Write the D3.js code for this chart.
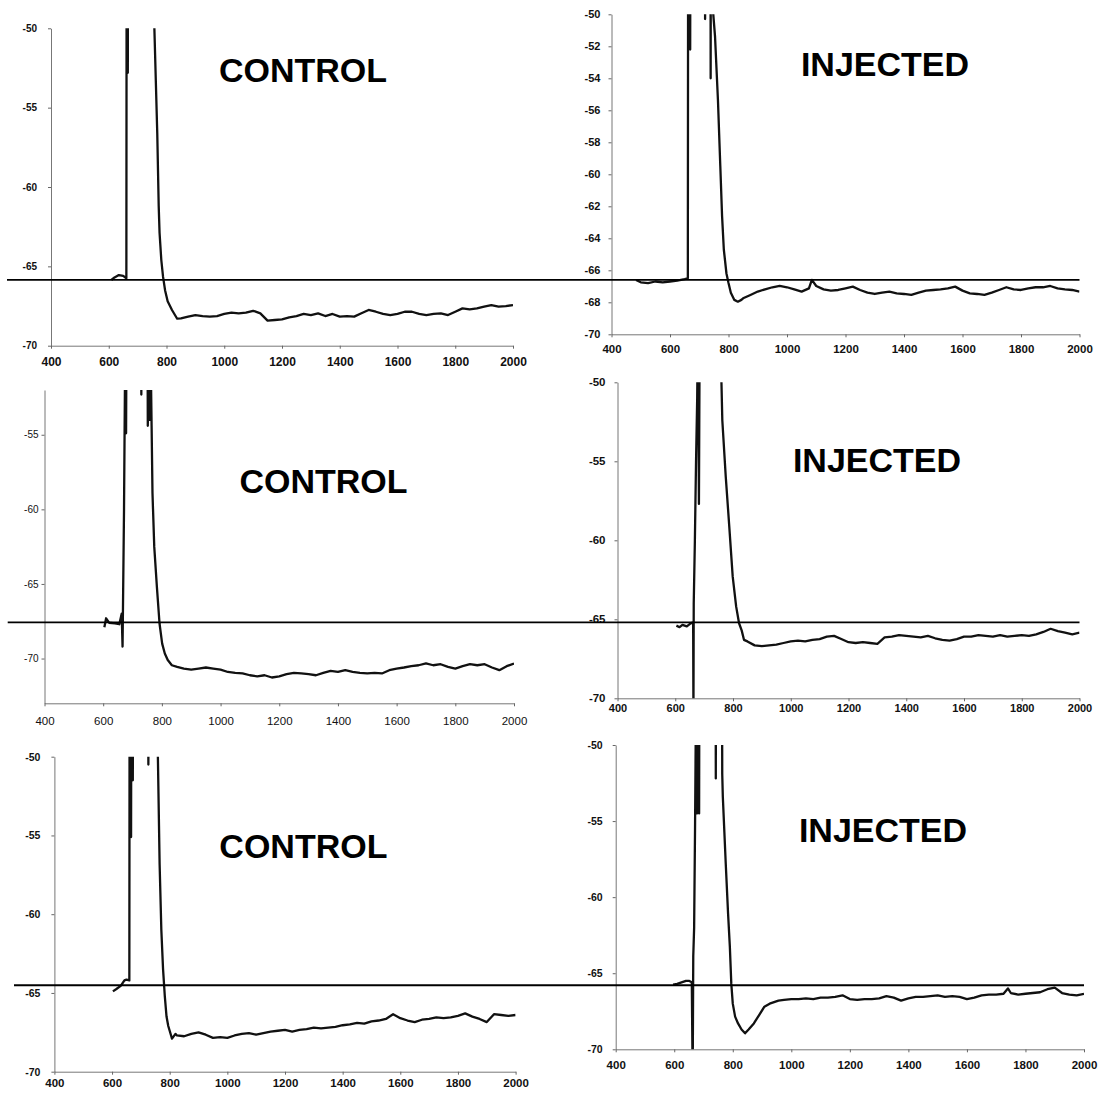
<!DOCTYPE html>
<meta charset="utf-8">
<script src="https://d3js.org/d3.v7.min.js"></script>
<body style="margin:0; background:#fff">
<div id="graph"></div>
</body>
<script>

    // Recordings: [time (ms), membrane potential (mV)]
    // the spike runs off the top of every panel, -20 marks the off-scale part
    var control1 = [
        [609,-65.86],[620,-65.7],[635,-65.55],[650,-65.6],[661,-65.75],
        [663,-20],[666,-52.8],[669,-20],[756,-20],
        [758,-50],[768,-56.6],[773,-61.2],[776,-62.9],[782,-64.6],[788,-65.65],[795,-66.5],[804,-67.2],[819,-67.75],[837,-68.3],
        [850,-68.28],[875,-68.17],[900,-68.07],[925,-68.13],[950,-68.17],[975,-68.13],[1000,-68.0],[1025,-67.92],
        [1050,-67.96],[1075,-67.92],[1100,-67.8],[1125,-67.96],[1150,-68.42],[1175,-68.38],[1200,-68.34],[1225,-68.21],
        [1250,-68.13],[1275,-68.0],[1300,-68.07],[1325,-67.96],[1350,-68.13],[1375,-68.0],[1400,-68.17],[1425,-68.13],
        [1450,-68.17],[1475,-67.96],[1500,-67.75],[1525,-67.86],[1550,-68.0],[1575,-68.07],[1600,-68.0],[1625,-67.86],
        [1650,-67.86],[1675,-68.0],[1700,-68.07],[1725,-68.0],[1750,-67.96],[1775,-68.07],[1800,-67.86],[1825,-67.65],
        [1850,-67.71],[1875,-67.65],[1900,-67.54],[1925,-67.44],[1950,-67.54],[1975,-67.5],[2000,-67.44]
    ];

    var injected1 = [
        [484,-66.6],[500,-66.75],[525,-66.8],[550,-66.7],[575,-66.75],[600,-66.7],[625,-66.65],[650,-66.55],[661,-66.5],
        [663,-20],[669,-52.2],[672,-20],[716,-20],[720,-50.3],[724,-20],[737,-20],[739,-54],[741,-20],[746,-20],
        [748,-50],[754,-51.4],[764,-55.4],[772,-59.5],[778,-62.6],[784,-64.7],[793,-66.2],[800,-66.8],[808,-67.4],
        [820,-67.85],[832,-67.96],[844,-67.85],
        [850,-67.75],[875,-67.54],[900,-67.33],[925,-67.19],[950,-67.06],[975,-66.98],[1000,-67.06],[1025,-67.19],
        [1050,-67.33],[1075,-67.13],[1085,-66.6],[1100,-66.98],[1125,-67.19],[1150,-67.27],[1175,-67.23],[1200,-67.13],
        [1225,-67.02],[1250,-67.23],[1275,-67.4],[1300,-67.48],[1325,-67.4],[1350,-67.33],[1375,-67.44],[1400,-67.48],
        [1425,-67.54],[1450,-67.4],[1475,-67.27],[1500,-67.23],[1525,-67.19],[1550,-67.13],[1575,-67.02],[1600,-67.27],
        [1625,-67.44],[1650,-67.48],[1675,-67.54],[1700,-67.4],[1725,-67.23],[1750,-67.06],[1775,-67.19],[1800,-67.23],
        [1825,-67.13],[1850,-67.06],[1875,-67.06],[1900,-66.98],[1925,-67.13],[1950,-67.19],[1975,-67.23],[2000,-67.33]
    ];

    var control2 = [
        [604,-67.9],[610,-67.3],[620,-67.6],[640,-67.65],[655,-67.7],[663,-67.0],[666,-69.2],
        [671,-60],[674,-52],[676,-45],[678,-54.9],[680,-45],[682,-20],[727,-20],[730,-52.3],[734,-20],
        [748,-20],[752,-54.4],[755,-50],[758,-54],[762,-50],
        [765,-54.4],[768,-58.9],[774,-62.5],[783,-65.2],[792,-67.65],[801,-69],[810,-69.66],[820,-70.1],[834,-70.45],[852,-70.56],
        [875,-70.67],[900,-70.74],[925,-70.67],[950,-70.6],[975,-70.67],[1000,-70.74],[1025,-70.9],[1050,-70.96],
        [1075,-71.0],[1100,-71.12],[1125,-71.19],[1150,-71.12],[1175,-71.27],[1200,-71.19],[1225,-71.05],[1250,-70.96],
        [1275,-71.0],[1300,-71.05],[1325,-71.12],[1350,-70.96],[1375,-70.83],[1400,-70.9],[1425,-70.78],[1450,-70.9],
        [1475,-70.96],[1500,-71.0],[1525,-70.96],[1550,-71.0],[1575,-70.78],[1600,-70.67],[1625,-70.6],[1650,-70.51],
        [1675,-70.45],[1700,-70.33],[1725,-70.45],[1750,-70.38],[1775,-70.56],[1800,-70.67],[1825,-70.51],[1850,-70.38],
        [1875,-70.45],[1900,-70.38],[1925,-70.6],[1950,-70.78],[1975,-70.51],[2000,-70.33]
    ];

    var injected2 = [
        [604,-65.4],[615,-65.5],[625,-65.35],[640,-65.45],[650,-65.3],[660,-65.2],[662,-65.3],
        [663,-71],[664,-64],[668,-60],[672,-55],[676,-51],[679,-45],[682,-57.7],[685,-45],[688,-20],[758,-20],
        [760,-50],[763,-52.4],[775,-56],[787,-59.1],[799,-62.3],[811,-64.2],[821,-65.25],[830,-65.7],[838,-66.3],
        [850,-66.4],[875,-66.65],[900,-66.7],[925,-66.65],[950,-66.6],[975,-66.5],[1000,-66.4],[1025,-66.35],
        [1050,-66.4],[1075,-66.3],[1100,-66.25],[1125,-66.1],[1150,-66.05],[1175,-66.25],[1200,-66.45],[1225,-66.5],
        [1250,-66.45],[1275,-66.5],[1300,-66.55],[1325,-66.15],[1350,-66.1],[1375,-66.0],[1400,-66.05],[1425,-66.1],
        [1450,-66.15],[1475,-66.05],[1500,-66.2],[1525,-66.3],[1550,-66.35],[1575,-66.25],[1600,-66.1],[1625,-66.1],
        [1650,-66.0],[1675,-66.05],[1700,-66.1],[1725,-66.0],[1750,-66.1],[1775,-66.05],[1800,-66.0],[1825,-66.05],
        [1850,-65.95],[1875,-65.8],[1900,-65.6],[1925,-65.75],[1950,-65.85],[1975,-65.95],[2000,-65.85]
    ];

    var control3 = [
        [603,-64.9],[615,-64.75],[630,-64.55],[643,-64.2],[650,-64.15],[660,-64.2],
        [662,-20],[666,-55.1],[669,-20],[672,-51.5],[675,-20],[722,-20],[726,-50.5],[730,-20],[757,-20],
        [759,-50],[765,-56.8],[771,-61],[777,-63.5],[783,-65.2],[789,-66.5],[795,-67.1],[808,-67.9],[820,-67.6],
        [825,-67.7],[850,-67.75],[875,-67.6],[900,-67.5],[925,-67.65],[950,-67.85],[975,-67.8],[1000,-67.85],
        [1025,-67.7],[1050,-67.6],[1075,-67.55],[1100,-67.65],[1125,-67.55],[1150,-67.45],[1175,-67.4],[1200,-67.35],
        [1225,-67.45],[1250,-67.35],[1275,-67.3],[1300,-67.2],[1325,-67.25],[1350,-67.2],[1375,-67.15],[1400,-67.05],
        [1425,-67.0],[1450,-66.9],[1475,-66.95],[1500,-66.8],[1525,-66.75],[1550,-66.65],[1575,-66.35],[1600,-66.6],
        [1625,-66.75],[1650,-66.85],[1675,-66.7],[1700,-66.65],[1725,-66.55],[1750,-66.6],[1775,-66.55],[1800,-66.45],
        [1825,-66.3],[1850,-66.5],[1875,-66.65],[1900,-66.85],[1925,-66.35],[1950,-66.4],[1975,-66.45],[2000,-66.4]
    ];

    var injected3 = [
        [596,-65.75],[610,-65.7],[625,-65.6],[640,-65.5],[650,-65.5],[660,-65.6],
        [663,-72],[665,-63.9],[668,-62],[671,-55.6],[674,-48],[678,-54.5],[681,-45],[685,-54.5],[688,-20],
        [740,-20],[742,-52.2],[744,-20],[760,-20],
        [764,-51.9],[766,-53.4],[776,-57.8],[784,-61.1],[790,-63.25],[795,-65.7],[800,-67],[808,-67.85],[818,-68.3],
        [830,-68.7],[842,-68.95],[854,-68.7],[872,-68.3],[890,-67.75],[908,-67.2],[926,-67],[956,-66.8],
        [975,-66.75],[1000,-66.7],[1025,-66.7],[1050,-66.65],[1075,-66.7],[1100,-66.6],[1125,-66.6],[1150,-66.55],
        [1175,-66.45],[1200,-66.7],[1225,-66.75],[1250,-66.7],[1275,-66.7],[1300,-66.65],[1325,-66.5],[1350,-66.6],
        [1375,-66.8],[1400,-66.65],[1425,-66.55],[1450,-66.55],[1475,-66.5],[1500,-66.45],[1525,-66.55],[1550,-66.5],
        [1575,-66.55],[1600,-66.7],[1625,-66.6],[1650,-66.45],[1675,-66.4],[1700,-66.4],[1725,-66.35],[1740,-66.0],
        [1750,-66.3],[1775,-66.4],[1800,-66.35],[1825,-66.3],[1850,-66.25],[1875,-66.05],[1900,-65.95],[1925,-66.3],
        [1950,-66.4],[1975,-66.45],[2000,-66.35]
    ];

    // resting level line for each row (read on the right hand panel)
    var restLevels = [-66.6, -65.19, -65.79];

    var xTicks = [400, 600, 800, 1000, 1200, 1400, 1600, 1800, 2000];
    var yTicks5 = [-50, -55, -60, -65, -70];
    var yTicks2 = [-50, -52, -54, -56, -58, -60, -62, -64, -66, -68, -70];

    // plain numbers, hyphen minus like the original
    var fmt = function (d) { return String(d); };

    // Panel layout, in page pixels
    var panels = [
        {data: control1, left: 51, right: 513, top: 28.3, bottom: 345.7, domain: [-70, -50], ticks: yTicks5,
            yFont: 10, xFont: 12, weight: "bold", xGap: 9, yGap: 11, label: "CONTROL", lx: 303, ly: 81.5},
        {data: injected1, left: 611.5, right: 1079.5, top: 14.3, bottom: 334.3, domain: [-70, -50], ticks: yTicks2,
            yFont: 11, xFont: 11.5, weight: "bold", xGap: 8, yGap: 8, label: "INJECTED", lx: 885, ly: 76},
        {data: control2, left: 44.5, right: 514, top: 390, bottom: 703.3, domain: [-73, -52], ticks: [-55, -60, -65, -70],
            yFont: 10, xFont: 11.5, weight: "normal", xGap: 11, yGap: 3, label: "CONTROL", lx: 323.5, ly: 493.3},
        {data: injected2, left: 617.5, right: 1079.5, top: 382.3, bottom: 698.3, domain: [-70, -50], ticks: yTicks5,
            yFont: 11.5, xFont: 11, weight: "bold", xGap: 3, yGap: 9, label: "INJECTED", lx: 877, ly: 471.7},
        {data: control3, left: 54.4, right: 515.6, top: 756.7, bottom: 1071.7, domain: [-70, -50], ticks: yTicks5,
            yFont: 10.5, xFont: 11.5, weight: "bold", xGap: 4, yGap: 11, label: "CONTROL", lx: 303.4, ly: 858.3},
        {data: injected3, left: 615.7, right: 1084, top: 745, bottom: 1049.3, domain: [-70, -50], ticks: yTicks5,
            yFont: 10.5, xFont: 11.5, weight: "bold", xGap: 9, yGap: 10, label: "INJECTED", lx: 883, ly: 841.7}
    ];

    var svg = d3.select("#graph")
        .append("svg")
        .attr("width", 1101)
        .attr("height", 1100)
        .style("font-family", "'Liberation Sans', Arial, sans-serif");

    svg.append("rect").attr("width", 1101).attr("height", 1100).attr("fill", "#fff");

    var scales = [];

    panels.forEach(function (p, i) {
        var x = d3.scaleLinear().domain([400, 2000]).range([p.left, p.right]);
        var y = d3.scaleLinear().domain(p.domain).range([p.bottom, p.top]);
        scales.push({x: x, y: y});

        var g = svg.append("g");

        // Y axis
        var ya = g.append("g")
            .attr("transform", "translate(" + p.left + ",0)")
            .call(d3.axisLeft(y).tickValues(p.ticks).tickFormat(fmt)
                .tickSize(3).tickSizeOuter(0).tickPadding(p.yGap));
        ya.selectAll("text").style("font-size", p.yFont + "px").style("font-weight", p.weight).attr("fill", "#111");

        // X axis
        var xa = g.append("g")
            .attr("transform", "translate(0," + p.bottom + ")")
            .call(d3.axisBottom(x).tickValues(xTicks).tickFormat(fmt)
                .tickSize(3).tickSizeOuter(0).tickPadding(p.xGap));
        xa.selectAll("text").style("font-size", p.xFont + "px").style("font-weight", p.weight).attr("fill", "#111");

        g.selectAll(".domain").attr("stroke", "#777").attr("stroke-width", 1);
        g.selectAll(".tick line").attr("stroke", "#666");

        // clip the trace to the plot box
        g.append("clipPath").attr("id", "clip" + i)
            .append("rect")
            .attr("x", p.left).attr("y", p.top)
            .attr("width", p.right - p.left).attr("height", p.bottom - p.top);

        var line = d3.line()
            .x(function (d) { return x(d[0]); })
            .y(function (d) { return y(d[1]); });

        g.append("path")
            .datum(p.data)
            .attr("clip-path", "url(#clip" + i + ")")
            .attr("fill", "none")
            .attr("stroke", "#111")
            .attr("stroke-width", 2.3)
            .attr("stroke-linejoin", "round")
            .attr("d", line);

        // Title
        g.append("text")
            .attr("x", p.lx)
            .attr("y", p.ly)
            .attr("text-anchor", "middle")
            .style("font-size", "34px")
            .style("font-weight", "bold")
            .attr("fill", "#000")
            .text(p.label);
    });

    // Resting level lines across each row
    var rowStarts = [7, 7.7, 14];
    restLevels.forEach(function (v, r) {
        var s = scales[r * 2 + 1];
        svg.append("line")
            .attr("x1", rowStarts[r])
            .attr("x2", s.x(2000))
            .attr("y1", s.y(v))
            .attr("y2", s.y(v))
            .attr("stroke", "#000")
            .attr("stroke-width", 1.8);
    });

</script>
